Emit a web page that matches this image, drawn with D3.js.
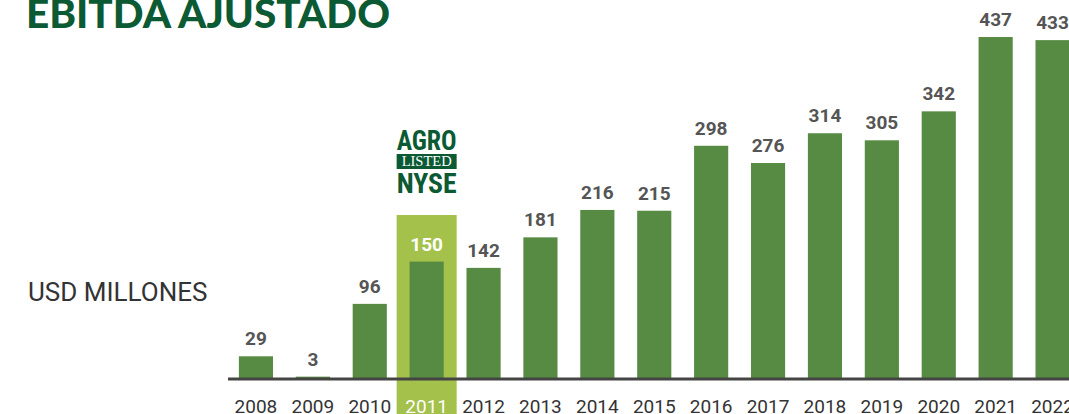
<!DOCTYPE html>
<html>
<head>
<meta charset="utf-8">
<script src="https://d3js.org/d3.v7.min.js"></script>
<style>
  html, body { margin: 0; padding: 0; background: #fff; overflow: hidden; }
</style>
</head>
<body>
<div id="chart"></div>
<script>
const years = ["2008", "2009", "2010", "2011", "2012", "2013", "2014", "2015", "2016", "2017", "2018", "2019", "2020", "2021", "2022"];
const ebitda = [29, 3, 96, 150, 142, 181, 216, 215, 298, 276, 314, 305, 342, 437, 433];
const highlightYear = "2011";

const width = 1069, height = 414;
const baseY = 379;

const svg = d3.select("#chart").append("svg")
    .attr("width", width)
    .attr("height", height);

const x = d3.scaleBand()
    .domain(years)
    .range([227.5, 1081])
    .paddingInner(0.4)
    .paddingOuter(0.2);

const y = d3.scaleLinear()
    .domain([0, 437])
    .range([baseY, 37]);

// franja del año de salida a bolsa
const hx = x(highlightYear) + x.bandwidth() / 2;
svg.append("rect")
    .attr("x", hx - 30)
    .attr("y", 215)
    .attr("width", 60)
    .attr("height", height - 215)
    .attr("fill", "#a3c14b");

// barras
svg.selectAll(".bar")
    .data(years)
    .enter().append("rect")
    .attr("class", "bar")
    .attr("x", d => x(d))
    .attr("width", x.bandwidth())
    .attr("y", (d, i) => y(ebitda[i]))
    .attr("height", (d, i) => baseY - y(ebitda[i]))
    .attr("fill", "#578a42");

// valores
svg.selectAll(".val")
    .data(years)
    .enter().append("text")
    .attr("x", d => x(d) + x.bandwidth() / 2)
    .attr("y", (d, i) => y(ebitda[i]) - 11)
    .attr("text-anchor", "middle")
    .style("font-family", "Roboto, sans-serif")
    .style("font-weight", "bold")
    .style("font-size", "19px")
    .style("fill", d => d === highlightYear ? "#ffffff" : "#555555")
    .text((d, i) => ebitda[i]);

// eje
svg.append("line")
    .attr("x1", 228).attr("x2", width)
    .attr("y1", baseY).attr("y2", baseY)
    .style("stroke", "#444444")
    .style("stroke-width", 3);

svg.selectAll(".yr")
    .data(years)
    .enter().append("text")
    .attr("x", d => x(d) + x.bandwidth() / 2)
    .attr("y", 413)
    .attr("text-anchor", "middle")
    .style("font-family", "Roboto, sans-serif")
    .style("font-size", "19px")
    .style("fill", d => d === highlightYear ? "#ffffff" : "#333333")
    .text(d => d);

// titulo
svg.append("text")
    .attr("x", 26)
    .attr("y", 28)
    .attr("textLength", 364)
    .attr("lengthAdjust", "spacingAndGlyphs")
    .style("font-family", "Lato, sans-serif")
    .style("font-weight", 900)
    .style("font-size", "40px")
    .style("fill", "#0b5a33")
    .text("EBITDA AJUSTADO");

svg.append("text")
    .attr("x", 28)
    .attr("y", 301)
    .style("font-family", "Roboto, sans-serif")
    .style("font-size", "26px")
    .style("fill", "#333333")
    .text("USD MILLONES");

// logo NYSE
const logo = svg.append("g").attr("transform", `translate(${hx},0)`);
logo.append("text")
    .attr("y", 150)
    .attr("text-anchor", "middle")
    .attr("textLength", 60)
    .attr("lengthAdjust", "spacingAndGlyphs")
    .style("font-family", "'Roboto Condensed', 'Liberation Sans Narrow', Roboto, sans-serif")
    .style("font-weight", "bold")
    .style("font-size", "28px")
    .style("fill", "#0b5a33")
    .text("AGRO");
logo.append("rect")
    .attr("x", -30).attr("y", 154)
    .attr("width", 60).attr("height", 15)
    .attr("fill", "#0b5a33");
logo.append("text")
    .attr("y", 166)
    .attr("text-anchor", "middle")
    .attr("textLength", 50)
    .attr("lengthAdjust", "spacingAndGlyphs")
    .style("font-family", "'Liberation Serif', serif")
    .style("font-size", "14px")
    .style("fill", "#ffffff")
    .text("LISTED");
logo.append("text")
    .attr("y", 193)
    .attr("text-anchor", "middle")
    .attr("textLength", 60)
    .attr("lengthAdjust", "spacingAndGlyphs")
    .style("font-family", "'Roboto Condensed', 'Liberation Sans Narrow', Roboto, sans-serif")
    .style("font-weight", "bold")
    .style("font-size", "28px")
    .style("fill", "#0b5a33")
    .text("NYSE");
</script>
</body>
</html>
